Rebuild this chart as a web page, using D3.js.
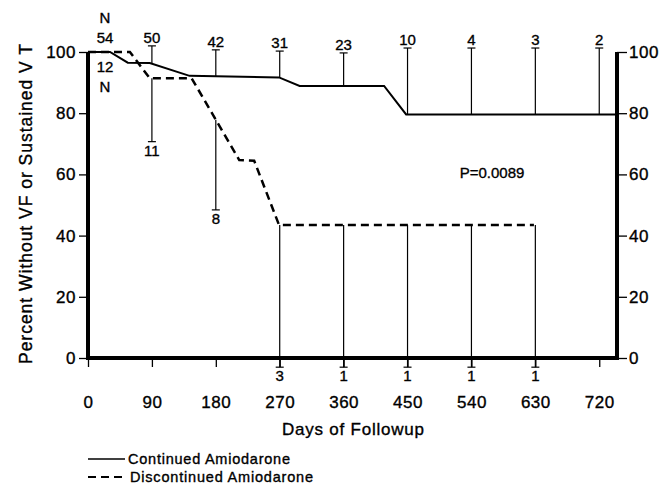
<!DOCTYPE html>
<html><head><meta charset="utf-8">
<script src="https://cdn.jsdelivr.net/npm/d3@7"></script>
<style>body{margin:0;background:#fff}svg{display:block;font-family:"Liberation Sans",Arial,sans-serif}text{stroke:#000;stroke-width:0.35px}</style>
</head><body><svg id="c" width="672" height="484"></svg>
<script>
const xTicks = [0, 90, 180, 270, 360, 450, 540, 630, 720];
const yTicks = [0, 20, 40, 60, 80, 100];
// Continued amiodarone curve
const contDays = [0, 31, 56, 87, 143, 269, 298, 417, 448, 745];
const contPct  = [100, 100, 96.5, 96.4, 92.2, 91.7, 88.9, 88.9, 79.6, 79.6];
// Discontinued amiodarone curve
const discDays = [0, 59, 87, 146, 213, 234, 269, 628];
const discPct  = [100, 100, 91.4, 91.4, 64.7, 64.5, 43.5, 43.5];
// numbers at risk
const contMarkDays = [90, 180, 270, 360, 450, 540, 630, 720];
const contMarkN    = [50, 42, 31, 23, 10, 4, 3, 2];
const contMarkTop  = [102, 100.7, 100.3, 99.7, 101.3, 101.3, 101.3, 101.3];
const discMarkDays = [90, 180, 270, 360, 450, 540, 630];
const discMarkN    = [11, 8, 3, 1, 1, 1, 1];
const discMarkEnd  = [70.7, 48.4, -3, -3, -3, -3, -3];
const startN = {cont: 54, disc: 12};
const pText = "P=0.0089";

const svg = d3.select("#c");
const x = d3.scaleLinear().domain([0, 745]).range([88, 617]);
const y = d3.scaleLinear().domain([0, 100]).range([358, 52]);
const contF = d3.scaleLinear().domain(contDays).range(contPct);
const discF = d3.scaleLinear().domain(discDays).range(discPct);

// axes
const left = svg.append("g").attr("transform", `translate(${x(0)},0)`)
  .call(d3.axisLeft(y).tickValues(yTicks).tickSize(9).tickPadding(3));
const right = svg.append("g").attr("transform", `translate(${x(745)},0)`)
  .call(d3.axisRight(y).tickValues(yTicks).tickSize(10).tickPadding(2));
const bottom = svg.append("g").attr("transform", `translate(0,${y(0)})`)
  .call(d3.axisBottom(x).tickValues(xTicks).tickSize(9).tickPadding(29));
[left, right, bottom].forEach(g => {
  g.select(".domain").remove();
  g.selectAll("line").attr("stroke", "#000").attr("stroke-width", 1.3);
  g.selectAll("text").attr("font-size", 17).attr("fill", "#000").attr("letter-spacing", 0.5);
});
svg.append("path")
  .attr("d", `M${x(0)},${y(100)}V${y(0)}H${x(745)}V${y(100)}`)
  .attr("fill", "none").attr("stroke", "#000").attr("stroke-width", 4);

// curves
const line = d3.line().x(d => x(d[0])).y(d => y(d[1]));
svg.append("path").datum(contDays.map((d, i) => [d, contPct[i]]))
  .attr("d", line).attr("fill", "none").attr("stroke", "#000").attr("stroke-width", 2);
svg.append("path").datum(discDays.map((d, i) => [d, discPct[i]]))
  .attr("d", line).attr("fill", "none").attr("stroke", "#000").attr("stroke-width", 2.5)
  .attr("stroke-dasharray", "8,5");

// markers
const mk = svg.append("g").attr("stroke", "#000").attr("stroke-width", 1.2);
contMarkDays.forEach((d, i) => {
  const xx = x(d), y0 = y(contF(d)), y1 = y(contMarkTop[i]);
  mk.append("line").attr("x1", xx).attr("x2", xx).attr("y1", y0).attr("y2", y1);
  mk.append("line").attr("x1", xx - 4).attr("x2", xx + 4).attr("y1", y1).attr("y2", y1);
  svg.append("text").attr("x", xx).attr("y", y1 - 3).attr("text-anchor", "middle")
    .attr("font-size", 15).text(contMarkN[i]);
});
discMarkDays.forEach((d, i) => {
  const xx = x(d), y0 = y(discF(d)), y1 = y(discMarkEnd[i]);
  mk.append("line").attr("x1", xx).attr("x2", xx).attr("y1", y0).attr("y2", y1);
  mk.append("line").attr("x1", xx - 4).attr("x2", xx + 4).attr("y1", y1).attr("y2", y1);
  svg.append("text").attr("x", xx).attr("y", y1 + 14).attr("text-anchor", "middle")
    .attr("font-size", 15).text(discMarkN[i]);
});

// N labels at start
const nx = 105;
[["N", 23], [startN.cont, 43], [startN.disc, 72], ["N", 92]].forEach(([t, yy]) =>
  svg.append("text").attr("x", nx).attr("y", yy).attr("text-anchor", "middle")
    .attr("font-size", 15).text(t));

svg.append("text").attr("x", 492).attr("y", 178).attr("text-anchor", "middle")
  .attr("font-size", 15).text(pText);

// titles
svg.append("text").attr("x", 353).attr("y", 435).attr("text-anchor", "middle")
  .attr("font-size", 17).attr("textLength", 142).attr("lengthAdjust", "spacing")
  .text("Days of Followup");
svg.append("text").attr("transform", "translate(32,204) rotate(-90)")
  .attr("text-anchor", "middle").attr("font-size", 17.5)
  .attr("textLength", 320).attr("lengthAdjust", "spacing")
  .text("Percent Without VF or Sustained V T");

// legend
const lg = svg.append("g");
lg.append("line").attr("x1", 88).attr("x2", 125).attr("y1", 459).attr("y2", 459)
  .attr("stroke", "#000").attr("stroke-width", 1.5);
lg.append("text").attr("x", 128).attr("y", 464).attr("font-size", 14.5)
  .attr("textLength", 162).attr("lengthAdjust", "spacing").text("Continued Amiodarone");
lg.append("line").attr("x1", 88).attr("x2", 127).attr("y1", 477).attr("y2", 477)
  .attr("stroke", "#000").attr("stroke-width", 2).attr("stroke-dasharray", "8,5");
lg.append("text").attr("x", 130).attr("y", 482).attr("font-size", 14.5)
  .attr("textLength", 183).attr("lengthAdjust", "spacing").text("Discontinued Amiodarone");
</script></body></html>
